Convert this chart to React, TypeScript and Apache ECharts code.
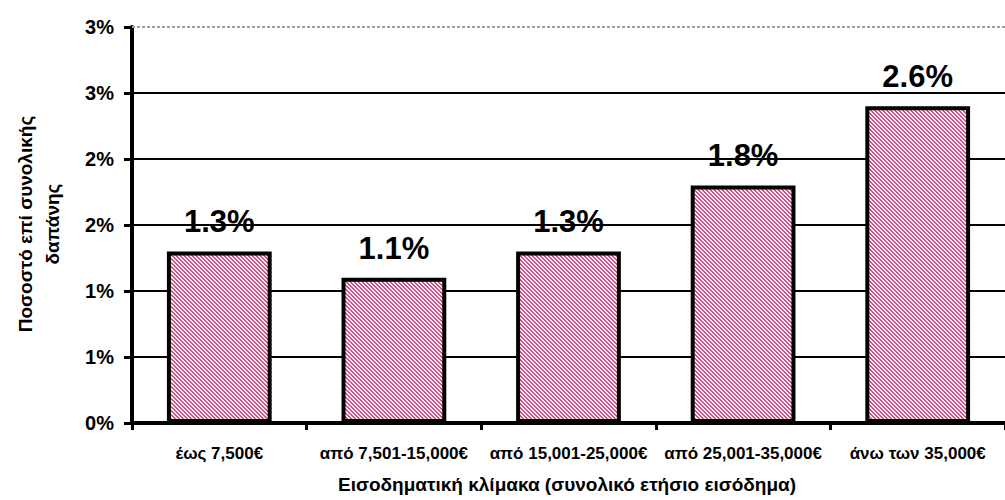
import React, { useEffect, useRef } from "react";
import * as echarts from "echarts";

const categories = [
  "έως 7,500€",
  "από 7,501-15,000€",
  "από 15,001-25,000€",
  "από 25,001-35,000€",
  "άνω των 35,000€",
];
const barValues = [1.3, 1.1, 1.3, 1.8, 2.4];
const valueLabels = ["1.3%", "1.1%", "1.3%", "1.8%", "2.6%"];
const yTickLabels = ["0%", "1%", "1%", "2%", "2%", "3%", "3%"];
const yTitle = "Ποσοστό επί συνολικής\nδαπάνης";
const xTitle = "Εισοδηματική κλίμακα (συνολικό ετήσιο εισόδημα)";

const FONT = '"Liberation Sans", Arial, sans-serif';

function makePattern(): HTMLCanvasElement {
  const c = document.createElement("canvas");
  c.width = 4;
  c.height = 4;
  const ctx = c.getContext("2d")!;
  ctx.fillStyle = "#fbeef3";
  ctx.fillRect(0, 0, 4, 4);
  ctx.fillStyle = "#d0508a";
  for (let y = 0; y < 4; y++) {
    for (let x = 0; x < 4; x++) {
      const d = (x - y + 8) % 4;
      if (d === 0 || d === 1) ctx.fillRect(x, y, 1, 1);
    }
  }
  return c;
}

export default function App() {
  const ref = useRef<HTMLDivElement>(null);
  useEffect(() => {
    document.body.style.margin = "0";
    const chart = echarts.init(ref.current!, null, { renderer: "svg" });
    const pattern = makePattern();
    chart.setOption({
      animation: false,
      backgroundColor: "#ffffff",
      grid: { left: 132, top: 27, width: 884, height: 396, containLabel: false },
      xAxis: {
        type: "category",
        data: categories,
        axisLine: { show: true, lineStyle: { color: "#000", width: 4 } },
        axisTick: { show: true, length: 7, lineStyle: { color: "#000", width: 3 } },
        axisLabel: {
          color: "#000",
          fontFamily: FONT,
          fontWeight: "bold",
          fontSize: 17,
          margin: 22,
          interval: 0,
        },
        splitLine: { show: false },
      },
      yAxis: {
        type: "value",
        min: 0,
        max: 3,
        interval: 0.5,
        axisLine: { show: true, lineStyle: { color: "#000", width: 4 } },
        axisTick: { show: true, length: 8, lineStyle: { color: "#000", width: 3 } },
        axisLabel: {
          color: "#000",
          fontFamily: FONT,
          fontWeight: "bold",
          fontSize: 20,
          margin: 18,
          formatter: (_v: number, i: number) => yTickLabels[i],
        },
        splitLine: {
          show: true,
          lineStyle: {
            color: ["#000", "#000", "#000", "#000", "#000", "#000", "transparent"],
            width: 2,
          },
        },
      },
      series: [
        {
          type: "bar",
          data: barValues,
          barWidth: "60%",
          itemStyle: {
            color: { image: pattern, repeat: "repeat", imageWidth: 4, imageHeight: 4 },
            borderColor: "#000",
            borderWidth: 4,
          },
          label: {
            show: true,
            position: "top",
            distance: 14,
            color: "#000",
            fontFamily: FONT,
            fontWeight: "bold",
            fontSize: 31,
            formatter: (p: any) => valueLabels[p.dataIndex],
          },
          markLine: {
            silent: true,
            symbol: "none",
            label: { show: false },
            lineStyle: { color: "#a0a0a0", type: [3, 2], width: 2 },
            data: [{ yAxis: 3 }],
          },
        },
      ],
      graphic: [
        {
          type: "text",
          x: 39,
          y: 224,
          rotation: Math.PI / 2,
          style: {
            text: yTitle,
            fontFamily: FONT,
            fontWeight: "bold",
            fontSize: 19,
            lineHeight: 27,
            fill: "#000",
            textAlign: "center",
            textVerticalAlign: "middle",
          },
        },
        {
          type: "text",
          x: 567,
          y: 484,
          style: {
            text: xTitle,
            fontFamily: FONT,
            fontWeight: "bold",
            fontSize: 19,
            fill: "#000",
            textAlign: "center",
            textVerticalAlign: "middle",
          },
        },
      ],
    });
    return () => chart.dispose();
  }, []);
  return (
    <div
      ref={ref}
      style={{ position: "absolute", left: 0, top: 0, width: 1005, height: 500 }}
    />
  );
}
